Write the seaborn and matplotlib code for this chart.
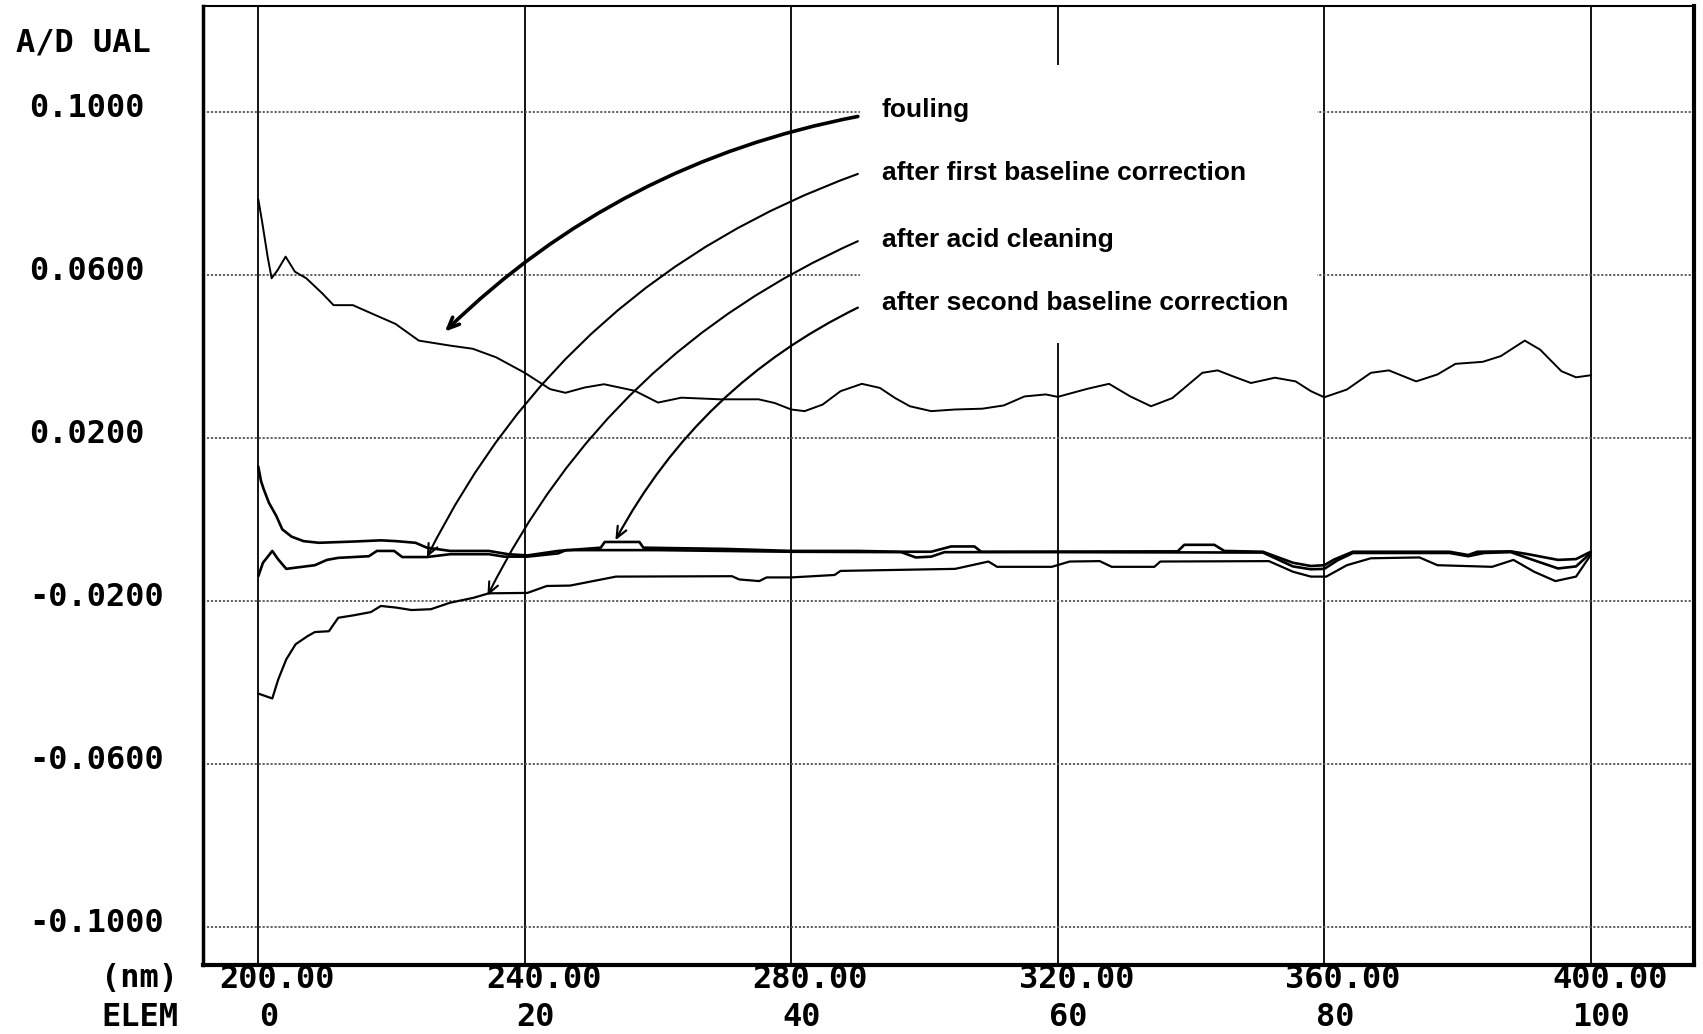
import matplotlib
matplotlib.use("Agg")
import matplotlib.pyplot as plt
import matplotlib.patches as patches
import matplotlib.transforms as mtransforms
import seaborn as sns

# wavelength (nm) / absorbance values
fouling_nm = [200.0, 200.6, 201.4, 202.0, 202.9, 204.1, 205.5, 207.2, 209.6, 211.3,
              214.2, 217.1, 220.6, 224.1, 228.7, 232.2, 235.7, 240.0, 243.8, 246.1,
              249.0, 251.9, 256.5, 260.0, 263.5, 269.3, 275.1, 277.5, 280.0, 282.0,
              284.7, 287.4, 290.6, 293.3, 295.6, 297.8, 301.0, 304.6, 308.7, 311.9,
              315.0, 318.2, 320.0, 324.5, 327.7, 330.9, 334.0, 337.2, 341.7, 344.0,
              346.2, 349.0, 352.6, 355.7, 358.0, 360.0, 363.4, 367.0, 369.7, 373.8,
              377.0, 379.7, 383.8, 386.5, 390.1, 392.4, 395.6, 397.8, 400.0]
fouling_val = [0.0786, 0.0728, 0.0645, 0.0592, 0.0612, 0.0645, 0.0608, 0.0592, 0.0555, 0.0526,
               0.0526, 0.0505, 0.0480, 0.0439, 0.0427, 0.0419, 0.0398, 0.0360, 0.0320, 0.0311,
               0.0324, 0.0332, 0.0316, 0.0287, 0.0299, 0.0295, 0.0295, 0.0286, 0.0270, 0.0266,
               0.0282, 0.0315, 0.0333, 0.0323, 0.0298, 0.0278, 0.0266, 0.0270, 0.0272, 0.0280,
               0.0302, 0.0307, 0.0301, 0.0321, 0.0333, 0.0302, 0.0278, 0.0298, 0.0360, 0.0366,
               0.0352, 0.0335, 0.0348, 0.0339, 0.0315, 0.0300, 0.0319, 0.0360, 0.0366, 0.0339,
               0.0356, 0.0382, 0.0387, 0.0401, 0.0439, 0.0417, 0.0364, 0.0349, 0.0354]

first_nm = [200.0, 200.7, 202.1, 203.0, 204.2, 208.5, 210.3, 212.0, 216.6, 217.8,
            220.4, 221.6, 225.3, 228.8, 234.6, 236.9, 240.4, 245.0, 246.2, 260.0,
            280.0, 296.5, 298.7, 301.0, 303.0, 320.0, 350.8, 355.3, 358.0, 360.0,
            362.0, 364.3, 378.8, 381.6, 384.0, 388.0, 391.5, 395.1, 397.8, 400.0]
first_val = [-0.0139, -0.0106, -0.0077, -0.0098, -0.0121, -0.0112, -0.0099, -0.0094, -0.0090, -0.0077,
             -0.0077, -0.0092, -0.0092, -0.0085, -0.0085, -0.0091, -0.0091, -0.0083, -0.0075, -0.0075,
             -0.0079, -0.0080, -0.0093, -0.0091, -0.0080, -0.0080, -0.0081, -0.0115, -0.0122, -0.0121,
             -0.0100, -0.0082, -0.0082, -0.0090, -0.0082, -0.0080, -0.0100, -0.0120, -0.0115, -0.0082]

acid_nm = [200.0, 202.1, 203.0, 204.2, 205.6, 207.4, 208.5, 210.6, 212.0, 214.3,
           216.9, 218.4, 220.7, 223.0, 225.9, 228.8, 232.3, 234.6, 240.4, 243.3,
           246.8, 253.7, 271.1, 272.2, 275.2, 276.3, 280.0, 286.5, 287.4, 304.6,
           309.6, 310.9, 319.1, 321.8, 326.3, 328.1, 334.5, 335.4, 351.7, 355.3,
           358.0, 360.3, 363.4, 367.0, 374.3, 377.0, 385.2, 388.4, 391.5, 394.7,
           397.8, 400.0]
acid_val = [-0.0427, -0.0439, -0.0392, -0.0343, -0.0306, -0.0286, -0.0276, -0.0274, -0.0241, -0.0235,
            -0.0227, -0.0212, -0.0216, -0.0222, -0.0220, -0.0204, -0.0192, -0.0181, -0.0180, -0.0163,
            -0.0162, -0.0140, -0.0139, -0.0147, -0.0151, -0.0142, -0.0142, -0.0136, -0.0126, -0.0121,
            -0.0103, -0.0116, -0.0116, -0.0103, -0.0102, -0.0116, -0.0116, -0.0103, -0.0102, -0.0128,
            -0.0140, -0.0140, -0.0112, -0.0095, -0.0093, -0.0112, -0.0116, -0.0099, -0.0128, -0.0151,
            -0.0140, -0.0087]

second_nm = [200.0, 200.4, 200.8, 201.6, 202.7, 203.6, 205.0, 206.8, 209.1, 214.3,
             218.4, 220.7, 223.6, 225.3, 228.8, 234.6, 237.5, 240.4, 245.0, 251.4,
             252.0, 257.2, 257.8, 270.0, 280.0, 290.0, 296.5, 301.0, 304.0, 307.5,
             308.5, 338.0, 339.0, 343.5, 345.0, 350.8, 355.3, 358.0, 360.0, 361.5,
             364.3, 378.8, 381.6, 383.0, 388.0, 390.6, 395.1, 397.8, 400.0]
second_val = [0.0130, 0.0095, 0.0075, 0.0041, 0.0009, -0.0024, -0.0042, -0.0053, -0.0057, -0.0054,
              -0.0051, -0.0053, -0.0057, -0.0069, -0.0077, -0.0077, -0.0085, -0.0088, -0.0077, -0.0069,
              -0.0055, -0.0055, -0.0069, -0.0072, -0.0077, -0.0077, -0.0079, -0.0079, -0.0066, -0.0066,
              -0.0079, -0.0078, -0.0062, -0.0062, -0.0077, -0.0079, -0.0106, -0.0114, -0.0112, -0.0098,
              -0.0079, -0.0079, -0.0087, -0.0079, -0.0078, -0.0085, -0.0099, -0.0097, -0.0079]

# axis labelling
y_ticks = [0.10, 0.06, 0.02, -0.02, -0.06, -0.10]
y_tick_labels = ["0.1000", "0.0600", "0.0200", "-0.0200", "-0.0600", "-0.1000"]
nm_ticks = [200, 240, 280, 320, 360, 400]
nm_tick_labels = ["200.00", "240.00", "280.00", "320.00", "360.00", "400.00"]
elem_labels = ["0", "20", "40", "60", "80", "100"]

labels = ["fouling", "after first baseline correction",
          "after acid cleaning", "after second baseline correction"]
label_y = [0.1005, 0.0850, 0.0686, 0.0531]
arrow_start_y = [0.0989, 0.0848, 0.0683, 0.0520]
arrow_tips = [(228.0, 0.0461), (225.3, -0.0093), (234.4, -0.0187), (253.6, -0.0051)]
arrow_rad = [0.15, 0.2, 0.18, 0.16]
arrow_lw = [2.6, 1.5, 1.5, 1.6]

sns.set_style("white")
plt.rcParams["text.color"] = "black"
mono = "DejaVu Sans Mono"
tick_size = 23

fig = plt.figure(figsize=(17.03, 10.34), dpi=100)
ax = fig.add_axes([0.1192, 0.0667, 0.8755, 0.9275])

# curves
sns.lineplot(x=fouling_nm, y=fouling_val, ax=ax, color="black", linewidth=1.4,
             sort=False, estimator=None, zorder=3)
sns.lineplot(x=first_nm, y=first_val, ax=ax, color="black", linewidth=1.9,
             sort=False, estimator=None, zorder=3)
sns.lineplot(x=acid_nm, y=acid_val, ax=ax, color="black", linewidth=1.6,
             sort=False, estimator=None, zorder=3)
sns.lineplot(x=second_nm, y=second_val, ax=ax, color="black", linewidth=1.9,
             sort=False, estimator=None, zorder=3)

ax.set_xlim(191.7, 415.5)
ax.set_ylim(-0.1093, 0.126)

# grid: solid verticals, dotted horizontals
for v in nm_ticks:
    ax.axvline(v, color="black", linewidth=1.3, zorder=1)
for v in y_ticks:
    ax.axhline(v, color="#555555", linewidth=1.3, linestyle=(0, (1.2, 1.0)), zorder=1)

ax.set_xticks([])
ax.set_yticks([])
ax.set_xlabel("")
ax.set_ylabel("")
for side, lw in [("left", 2.5), ("right", 3.0), ("bottom", 3.0), ("top", 1.5)]:
    ax.spines[side].set_visible(True)
    ax.spines[side].set_color("black")
    ax.spines[side].set_linewidth(lw)

# white paste-over behind the annotation labels
ax.add_patch(patches.Rectangle((290.3, 0.0433), 68.6, 0.0682, facecolor="white",
                               edgecolor="none", zorder=2))

for text, ty, sy, tip, rad, lw in zip(labels, label_y, arrow_start_y, arrow_tips, arrow_rad, arrow_lw):
    ax.text(293.6, ty, text, ha="left", va="center", fontsize=19, fontweight="bold",
            family="Liberation Sans", color="black", zorder=4)
    ax.annotate("", xy=tip, xytext=(290.0, sy),
                arrowprops=dict(arrowstyle="->,head_length=0.8,head_width=0.35",
                                color="black", lw=lw, shrinkA=0, shrinkB=0,
                                connectionstyle=f"arc3,rad={rad}"),
                zorder=4)

# axis text in the old plotter style
ytrans = mtransforms.blended_transform_factory(fig.transFigure, ax.transData)
for v, lab in zip(y_ticks, y_tick_labels):
    fig.text(0.0170, v + 0.0009, lab, transform=ytrans, ha="left", va="center",
             fontsize=tick_size, fontweight="bold", family=mono)
fig.text(0.0094, 1 - 43 / 1034, "A/D UAL", ha="left", va="center",
         fontsize=tick_size, fontweight="bold", family=mono)

xtrans = mtransforms.blended_transform_factory(ax.transData, fig.transFigure)
for v, lab, el in zip(nm_ticks, nm_tick_labels, elem_labels):
    fig.text(v + 2.85, 1 - 979 / 1034, lab, transform=xtrans, ha="center", va="center",
             fontsize=tick_size, fontweight="bold", family=mono)
    fig.text(v + 1.6, 1 - 1017 / 1034, el, transform=xtrans, ha="center", va="center",
             fontsize=tick_size, fontweight="bold", family=mono)
fig.text(178 / 1703, 1 - 979 / 1034, "(nm)", ha="right", va="center",
         fontsize=tick_size, fontweight="bold", family=mono)
fig.text(178 / 1703, 1 - 1017 / 1034, "ELEM", ha="right", va="center",
         fontsize=tick_size, fontweight="bold", family=mono)

fig.savefig("out.png", dpi=100, facecolor="white")
